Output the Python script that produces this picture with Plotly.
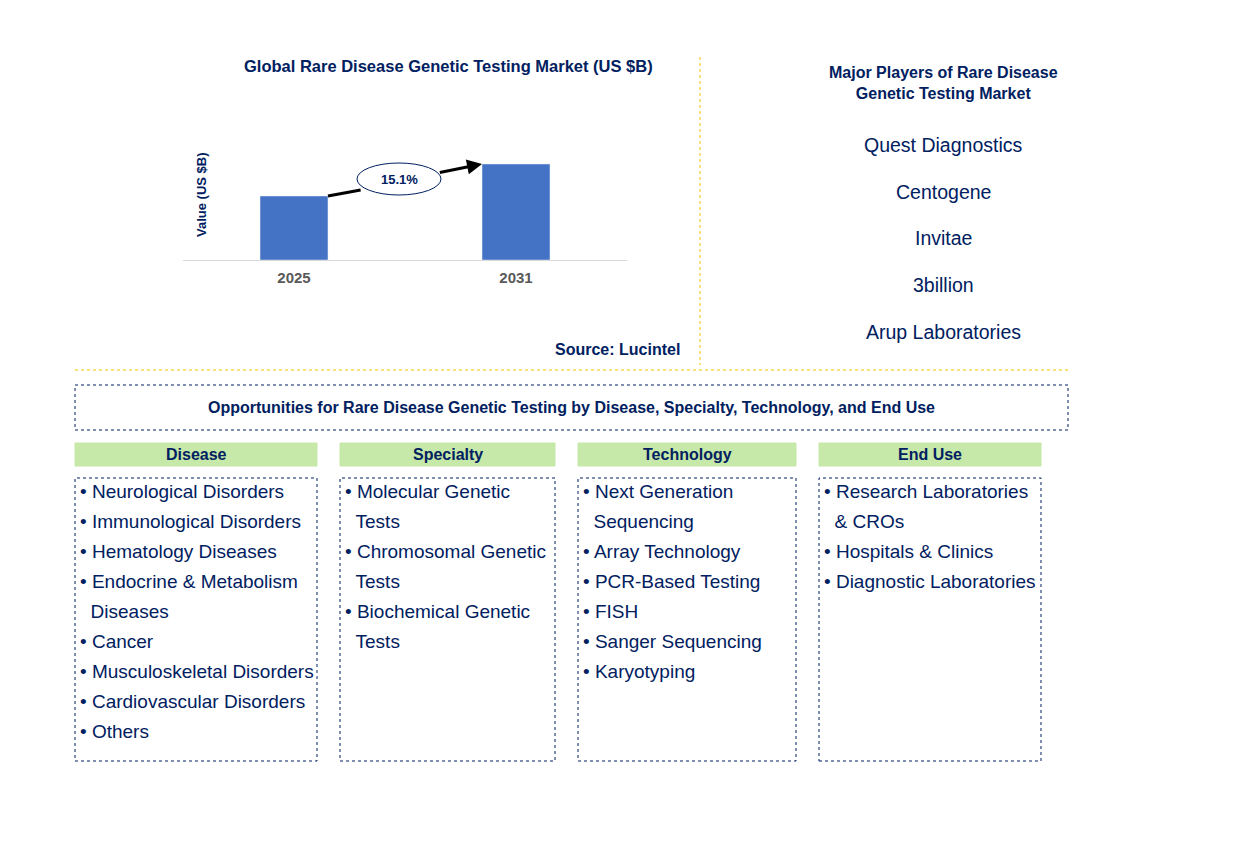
import plotly.graph_objects as go

years = ["2025", "2031"]
values = [1.0, 1.5]
cagr = "15.1%"
players = ["Quest Diagnostics", "Centogene", "Invitae", "3billion", "Arup Laboratories"]
disease = ["• Neurological Disorders", "• Immunological Disorders", "• Hematology Diseases",
           "• Endocrine & Metabolism", "   Diseases", "• Cancer", "• Musculoskeletal Disorders",
           "• Cardiovascular Disorders", "• Others"]
specialty = ["• Molecular Genetic", "   Tests", "• Chromosomal Genetic", "   Tests",
             "• Biochemical Genetic", "   Tests"]
technology = ["• Next Generation", "   Sequencing", "• Array Technology", "• PCR-Based Testing",
              "• FISH", "• Sanger Sequencing", "• Karyotyping"]
enduse = ["• Research Laboratories", "   & CROs", "• Hospitals & Clinics", "• Diagnostic Laboratories"]

W, H = 1260, 842
OFF = 8
def px(x): return (x - OFF) / W
def py(y): return 1 - (y - OFF) / H
NAVY = "#002060"
FONT = "Liberation Sans, Arial"

fig = go.Figure()
fig.add_trace(go.Bar(x=years, y=values, marker_color="#4472C4", width=0.306))

fig.update_layout(
    width=W, height=H, margin=dict(l=0, r=0, t=0, b=0),
    paper_bgcolor="white", plot_bgcolor="white", showlegend=False,
    font=dict(family=FONT, color=NAVY),
    xaxis=dict(domain=[px(183), px(627)], range=[-0.5, 1.5], showgrid=False,
               showline=True, linecolor="#D9D9D9", ticks="", ticklabelstandoff=4,
               tickfont=dict(size=15, color="#595959", family=FONT, weight="bold")),
    yaxis=dict(domain=[py(260), py(140)], range=[0, 1.875], showgrid=False,
               showticklabels=False, zeroline=False),
)

shapes = []
ann = []
shapes.append(dict(type="line", xref="x", yref="y", x0=0.153, y0=values[0], x1=0.30, y1=1.094,
                   line=dict(color="black", width=3)))
ann.append(dict(x=0.847, y=values[1], ax=0.65, ay=1.363, xref="x", yref="y", axref="x", ayref="y",
                showarrow=True, arrowhead=2, arrowsize=1, arrowwidth=3, arrowcolor="black", text=""))
shapes.append(dict(type="circle", xref="paper", yref="paper", x0=px(357), x1=px(441), y0=py(195), y1=py(163),
                   fillcolor="white", line=dict(color=NAVY, width=1)))
ann.append(dict(x=px(399), y=py(179), xref="paper", yref="paper", text="<b>" + cagr + "</b>",
                showarrow=False, xanchor="center", yanchor="middle", font=dict(size=13, color=NAVY)))
ann.append(dict(x=px(202), y=py(195), xref="paper", yref="paper", text="<b>Value (US $B)</b>", textangle=-90,
                showarrow=False, xanchor="center", yanchor="middle", font=dict(size=13, color=NAVY)))

def text(x, y, s, size=19, bold=False, xanchor="center", color=NAVY):
    ann.append(dict(x=px(x), y=py(y), xref="paper", yref="paper", text=("<b>%s</b>" % s) if bold else s,
                    showarrow=False, xanchor=xanchor, yanchor="middle", font=dict(size=size, color=color)))

text(448, 66, "Global Rare Disease Genetic Testing Market (US $B)", 16.5, True)
text(682, 349, "Source: Lucintel", 16, True, xanchor="right")
text(943, 83, "Major Players of Rare Disease<br>Genetic Testing Market", 16, True)
for i, p in enumerate(players):
    text(943, 145 + i * 46.7, p, 19.5)

gold = "#F2C200"
shapes.append(dict(type="line", xref="paper", yref="paper", x0=px(700), x1=px(700), y0=py(57), y1=py(365),
                   line=dict(color=gold, width=1, dash="dot")))
shapes.append(dict(type="line", xref="paper", yref="paper", x0=px(75), x1=px(1068), y0=py(370), y1=py(370),
                   line=dict(color=gold, width=1, dash="dot")))

def box(x0, x1, y0, y1, fill=None, dotted=True):
    shapes.append(dict(type="rect", xref="paper", yref="paper", x0=px(x0), x1=px(x1), y0=py(y1), y1=py(y0),
                       fillcolor=fill if fill else "rgba(0,0,0,0)",
                       line=dict(color=NAVY if dotted else "#C6E8A8", width=1, dash="dot" if dotted else "solid")))

box(75, 1068, 385, 430)
text(571, 407, "Opportunities for Rare Disease Genetic Testing by Disease, Specialty, Technology, and End Use", 16, True)

cols = [("Disease", 75, 317, disease), ("Specialty", 340, 555, specialty),
        ("Technology", 578, 796, technology), ("End Use", 819, 1041, enduse)]
for name, x0, x1, items in cols:
    box(x0, x1, 443, 466, fill="#C6E8A8", dotted=False)
    text((x0 + x1) / 2, 454, name, 16, True)
    box(x0, x1, 478, 761)
    for i, s in enumerate(items):
        text(x0 + 3, 491 + i * 30, s.replace("   ", "&nbsp;&nbsp;"), 19, xanchor="left")

fig.update_layout(shapes=shapes, annotations=ann)
fig.write_html("out.html")
